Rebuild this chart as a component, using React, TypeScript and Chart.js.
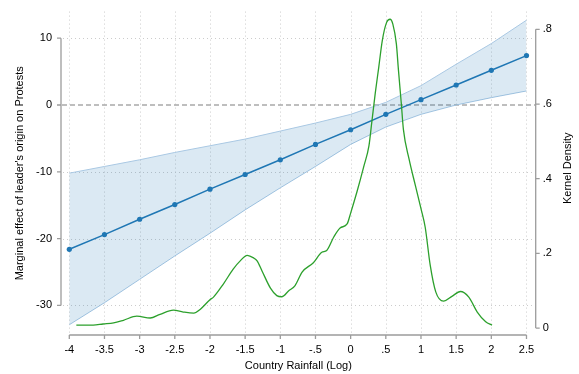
import React, { useEffect, useRef } from 'react';
import { Chart, registerables } from 'chart.js';

Chart.register(...registerables);

// ---- Data ----
const rainfallPoints = [-4, -3.5, -3, -2.5, -2, -1.5, -1, -0.5, 0, 0.5, 1, 1.5, 2, 2.5];
const marginalEffect = [-21.6, -19.4, -17.1, -14.9, -12.6, -10.4, -8.2, -5.9, -3.7, -1.4, 0.8, 3.0, 5.2, 7.4];
const ciUpper = [-10.2, -9.2, -8.2, -7.1, -6.1, -5.1, -3.9, -2.7, -1.4, 0.4, 2.9, 6.1, 9.2, 12.7];
const ciLower = [-32.9, -29.6, -26.1, -22.6, -19.2, -15.7, -12.4, -9.2, -5.9, -3.3, -1.4, 0.0, 1.1, 2.1];

const densityX = [
  -3.9, -3.66, -3.52, -3.37, -3.23, -3.04, -2.85, -2.71, -2.52, -2.38, -2.23, -2.14, -2.0, -1.95,
  -1.81, -1.67, -1.57, -1.47, -1.38, -1.33, -1.26, -1.14, -1.05, -0.98, -0.88, -0.79, -0.69,
  -0.53, -0.41, -0.34, -0.24, -0.15, -0.05, 0.0, 0.09, 0.19, 0.26, 0.3, 0.35, 0.4, 0.45, 0.51,
  0.56, 0.6, 0.65, 0.68, 0.72, 0.75, 0.83, 0.92, 1.0, 1.06, 1.13, 1.21, 1.32, 1.44, 1.56, 1.68,
  1.8, 1.92, 2.01,
];
const densityY = [
  0.008, 0.008, 0.011, 0.014, 0.021, 0.032, 0.027, 0.037, 0.048, 0.043, 0.04, 0.05, 0.076, 0.083,
  0.118, 0.158, 0.18, 0.195, 0.188, 0.18, 0.153, 0.107, 0.087, 0.084, 0.1, 0.114, 0.15,
  0.175, 0.203, 0.208, 0.244, 0.268, 0.279, 0.308, 0.365, 0.435, 0.488, 0.55, 0.629, 0.699, 0.77, 0.818,
  0.827, 0.814, 0.761, 0.69, 0.602, 0.532, 0.453, 0.382, 0.32, 0.27, 0.17, 0.097, 0.072, 0.085, 0.098, 0.083,
  0.043, 0.017, 0.008,
];

const xTickValues = [-4, -3.5, -3, -2.5, -2, -1.5, -1, -0.5, 0, 0.5, 1, 1.5, 2, 2.5];
const xTickLabels = ['-4', '-3.5', '-3', '-2.5', '-2', '-1.5', '-1', '-.5', '0', '.5', '1', '1.5', '2', '2.5'];
const leftTickValues = [-30, -20, -10, 0, 10];
const leftTickLabels = ['-30', '-20', '-10', '0', '10'];
const rightTickValues = [0, 0.2, 0.4, 0.6, 0.8];
const rightTickLabels = ['0', '.2', '.4', '.6', '.8'];
const rightTitle = 'Kernel Density';

const FONT = "'Liberation Sans', Arial, Helvetica, sans-serif";
const BLUE = '#1f77b4';
const GREEN = '#2ca02c';
const AXIS = '#9c9c9c';

const labelFor = (vals: number[], labels: string[]) => (v: any) => {
  const i = vals.findIndex((t) => Math.abs(t - Number(v)) < 1e-6);
  return i >= 0 ? labels[i] : '';
};

const stataAxes = {
  id: 'stataAxes',
  beforeDatasetsDraw(chart: any) {
    const { ctx, chartArea: ca, scales } = chart;
    const x = scales.x;
    const y = scales.y;
    ctx.save();
    ctx.lineWidth = 1;
    ctx.strokeStyle = '#cccccc';
    ctx.setLineDash([1, 3]);
    for (const v of xTickValues) {
      const px = Math.round(x.getPixelForValue(v)) + 0.5;
      ctx.beginPath();
      ctx.moveTo(px, ca.top);
      ctx.lineTo(px, ca.bottom - 2);
      ctx.stroke();
    }
    for (const v of leftTickValues) {
      if (v === 0) continue;
      const py = Math.round(y.getPixelForValue(v)) + 0.5;
      ctx.beginPath();
      ctx.moveTo(ca.left + 2, py);
      ctx.lineTo(ca.right - 2, py);
      ctx.stroke();
    }
    // reference line at zero
    ctx.setLineDash([5, 3]);
    ctx.strokeStyle = '#a9a9a9';
    ctx.lineWidth = 1.4;
    const pz = y.getPixelForValue(0);
    ctx.beginPath();
    ctx.moveTo(ca.left + 1, pz);
    ctx.lineTo(ca.right, pz);
    ctx.stroke();
    ctx.restore();
  },
  afterDraw(chart: any) {
    const { ctx, chartArea: ca, scales } = chart;
    const x = scales.x;
    const y = scales.y;
    const y2 = scales.y2;
    ctx.save();
    ctx.setLineDash([]);
    ctx.strokeStyle = AXIS;
    ctx.lineWidth = 1.3;
    const L = ca.left;
    const R = ca.right;
    const B = ca.bottom;
    // left axis
    ctx.beginPath();
    ctx.moveTo(L, y.getPixelForValue(leftTickValues[0]));
    ctx.lineTo(L, y.getPixelForValue(leftTickValues[leftTickValues.length - 1]));
    for (const v of leftTickValues) {
      const p = y.getPixelForValue(v);
      ctx.moveTo(L - 4, p);
      ctx.lineTo(L, p);
    }
    ctx.stroke();
    // right axis
    ctx.beginPath();
    ctx.moveTo(R, y2.getPixelForValue(rightTickValues[0]));
    ctx.lineTo(R, y2.getPixelForValue(rightTickValues[rightTickValues.length - 1]));
    for (const v of rightTickValues) {
      const p = y2.getPixelForValue(v);
      ctx.moveTo(R, p);
      ctx.lineTo(R + 4, p);
    }
    ctx.stroke();
    // bottom axis
    ctx.beginPath();
    ctx.moveTo(x.getPixelForValue(xTickValues[0]), B);
    ctx.lineTo(x.getPixelForValue(xTickValues[xTickValues.length - 1]), B);
    for (const v of xTickValues) {
      const p = x.getPixelForValue(v);
      ctx.moveTo(p, B);
      ctx.lineTo(p, B + 4);
    }
    ctx.stroke();
    // right axis title, rotated like Stata (reads bottom to top)
    ctx.translate(R + 32.3, (ca.top + ca.bottom) / 2 - 5);
    ctx.rotate(-Math.PI / 2);
    ctx.fillStyle = '#000';
    ctx.font = `11px ${FONT}`;
    ctx.textAlign = 'center';
    ctx.textBaseline = 'middle';
    ctx.fillText(rightTitle, 0, 0);
    ctx.restore();
  },
};

const hiddenGrid = { display: true, drawOnChartArea: false, drawTicks: true, tickLength: 4, color: 'rgba(0,0,0,0)' };
const tickFont = { family: FONT, size: 11 };
const titleFont = { family: FONT, size: 11 };

export default function App() {
  const ref = useRef<HTMLCanvasElement | null>(null);

  useEffect(() => {
    if (!ref.current) return;
    const chart = new Chart(ref.current, {
      type: 'line',
      data: {
        datasets: [
          {
            label: 'upper',
            data: rainfallPoints.map((x, i) => ({ x, y: ciUpper[i] })),
            borderColor: '#a9c8e3',
            borderWidth: 1,
            backgroundColor: 'rgba(31,119,180,0.16)',
            pointRadius: 0,
            fill: '+1',
            yAxisID: 'y',
            order: 3,
            tension: 0,
          },
          {
            label: 'lower',
            data: rainfallPoints.map((x, i) => ({ x, y: ciLower[i] })),
            borderColor: '#a9c8e3',
            borderWidth: 1,
            pointRadius: 0,
            fill: false,
            yAxisID: 'y',
            order: 4,
            tension: 0,
          },
          {
            label: 'effect',
            data: rainfallPoints.map((x, i) => ({ x, y: marginalEffect[i] })),
            borderColor: BLUE,
            backgroundColor: BLUE,
            borderWidth: 1.5,
            pointRadius: 2.6,
            pointBorderWidth: 0,
            pointBackgroundColor: BLUE,
            fill: false,
            yAxisID: 'y',
            order: 2,
            tension: 0,
          },
          {
            label: 'density',
            data: densityX.map((x, i) => ({ x, y: densityY[i] })),
            borderColor: GREEN,
            borderWidth: 1.3,
            pointRadius: 0,
            fill: false,
            yAxisID: 'y2',
            order: 1,
            cubicInterpolationMode: 'monotone',
          },
        ],
      },
      options: {
        responsive: false,
        animation: false,
        devicePixelRatio: 1,
        layout: { padding: { top: 7, left: 0, right: 0, bottom: 0 } },
        plugins: { legend: { display: false }, tooltip: { enabled: false } },
        scales: {
          x: {
            type: 'linear',
            position: 'bottom',
            min: -4.118,
            max: 2.631,
            grid: hiddenGrid,
            border: { display: false },
            afterBuildTicks: (s: any) => {
              s.ticks = xTickValues.map((value) => ({ value }));
            },
            afterFit: (s: any) => {
              s.height = 39;
            },
            ticks: {
              autoSkip: false,
              maxRotation: 0,
              padding: 4,
              color: '#000',
              font: tickFont,
              callback: labelFor(xTickValues, xTickLabels),
            },
            title: {
              display: true,
              text: 'Country Rainfall (Log)',
              color: '#000',
              font: titleFont,
              padding: { top: 0, bottom: 1 },
            },
          },
          y: {
            type: 'linear',
            position: 'left',
            min: -34.43,
            max: 13.985,
            grid: hiddenGrid,
            border: { display: false },
            afterBuildTicks: (s: any) => {
              s.ticks = leftTickValues.map((value) => ({ value }));
            },
            afterFit: (s: any) => {
              s.width = 61;
            },
            ticks: {
              autoSkip: false,
              padding: 5,
              color: '#000',
              font: tickFont,
              callback: labelFor(leftTickValues, leftTickLabels),
            },
            title: {
              display: true,
              text: "Marginal effect of leader's origin on Protests",
              color: '#000',
              font: titleFont,
              padding: { top: 13, bottom: 0 },
            },
          },
          y2: {
            type: 'linear',
            position: 'right',
            min: -0.01848,
            max: 0.8475,
            grid: hiddenGrid,
            border: { display: false },
            afterBuildTicks: (s: any) => {
              s.ticks = rightTickValues.map((value) => ({ value }));
            },
            afterFit: (s: any) => {
              s.width = 43.3;
            },
            ticks: {
              autoSkip: false,
              padding: 3,
              color: '#000',
              font: tickFont,
              callback: labelFor(rightTickValues, rightTickLabels),
            },
            title: { display: false },
          },
        },
      },
      plugins: [stataAxes],
    } as any);
    return () => chart.destroy();
  }, []);

  return (
    <div style={{ position: 'fixed', left: 0, top: 0, width: 579, height: 374, background: '#fff' }}>
      <canvas ref={ref} width={579} height={374} style={{ display: 'block', width: 579, height: 374 }} />
    </div>
  );
}
